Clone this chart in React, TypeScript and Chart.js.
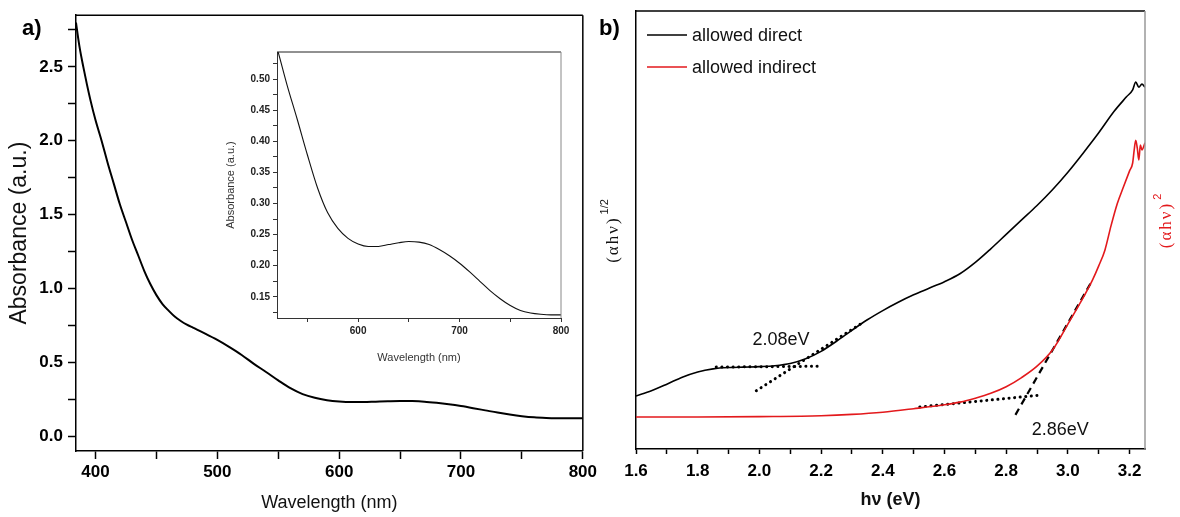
import React, { useEffect, useRef } from 'react';
import { Chart, registerables } from 'chart.js';

Chart.register(...registerables);
Chart.defaults.font.family = "'Liberation Sans', Arial, sans-serif";

// ---------- Panel a: absorbance spectrum ----------
const wavelength = [384, 385, 387, 390, 393, 396, 400, 405, 410, 415, 420, 425, 430, 435, 440, 445, 450, 455, 460, 465, 470, 475, 480, 490, 500, 510, 520, 530, 540, 550, 560, 570, 580, 590, 600, 610, 620, 630, 640, 650, 660, 670, 680, 690, 700, 710, 720, 730, 740, 750, 760, 770, 780, 790, 800];
const absorbance = [2.80, 2.74, 2.63, 2.50, 2.38, 2.27, 2.14, 2.00, 1.85, 1.71, 1.57, 1.45, 1.33, 1.225, 1.12, 1.03, 0.955, 0.895, 0.85, 0.81, 0.78, 0.755, 0.735, 0.695, 0.652, 0.603, 0.55, 0.49, 0.435, 0.378, 0.325, 0.285, 0.26, 0.244, 0.235, 0.231, 0.231, 0.234, 0.237, 0.239, 0.238, 0.234, 0.226, 0.216, 0.204, 0.19, 0.175, 0.16, 0.147, 0.136, 0.128, 0.124, 0.122, 0.121, 0.121];

const wavelengthTicks = [400, 450, 500, 550, 600, 650, 700, 750, 800];
const wavelengthTickLabels = ['400', '', '500', '', '600', '', '700', '', '800'];
const absorbanceTicks = [0, 0.25, 0.5, 0.75, 1.0, 1.25, 1.5, 1.75, 2.0, 2.25, 2.5, 2.75];
const absorbanceTickLabels = ['0.0', '', '0.5', '', '1.0', '', '1.5', '', '2.0', '', '2.5', ''];

// inset (same spectrum, zoomed)
const insetWavelengthTicks = [550, 600, 650, 700, 750, 800];
const insetWavelengthTickLabels = ['', '600', '', '700', '', '800'];
const insetAbsorbanceTicks = [0.125, 0.15, 0.175, 0.2, 0.225, 0.25, 0.275, 0.3, 0.325, 0.35, 0.375, 0.4, 0.425, 0.45, 0.475, 0.5, 0.525];
const insetAbsorbanceTickLabels = ['', '0.15', '', '0.20', '', '0.25', '', '0.30', '', '0.35', '', '0.40', '', '0.45', '', '0.50', ''];

// ---------- Panel b: Tauc plots ----------
const directEnergy = [1.60, 1.65, 1.70, 1.75, 1.80, 1.85, 1.90, 1.95, 2.00, 2.05, 2.10, 2.15, 2.20, 2.25, 2.30, 2.35, 2.40, 2.45, 2.50, 2.55, 2.60, 2.65, 2.70, 2.75, 2.80, 2.85, 2.90, 2.95, 3.00, 3.05, 3.10, 3.15, 3.19, 3.21, 3.22, 3.23, 3.24, 3.25];
const directValue = [12.1, 13.3, 14.8, 16.4, 17.6, 18.3, 18.6, 18.7, 18.8, 19.0, 19.5, 20.6, 22.3, 24.6, 27.1, 29.5, 31.6, 33.5, 35.2, 36.7, 38.2, 40.0, 42.6, 45.7, 49.0, 52.3, 55.6, 59.2, 63.2, 67.6, 72.2, 77.1, 80.4, 82.0, 83.8, 82.6, 83.3, 82.6];
const indirectEnergy = [1.60, 1.80, 2.00, 2.20, 2.30, 2.40, 2.50, 2.60, 2.65, 2.70, 2.75, 2.80, 2.85, 2.90, 2.95, 3.00, 3.05, 3.08, 3.10, 3.12, 3.14, 3.16, 3.18, 3.20, 3.21, 3.215, 3.22, 3.225, 3.23, 3.235, 3.24, 3.25];
const indirectValue = [7.3, 7.3, 7.4, 7.6, 7.9, 8.4, 9.2, 10.1, 10.7, 11.6, 12.7, 14.2, 16.3, 18.9, 22.6, 28.5, 34.6, 38.6, 41.8, 45.4, 51.0, 56.0, 59.8, 63.5, 65.3, 68.3, 70.5, 68.7, 66.0, 69.4, 68.3, 69.9];

const directFlatE = [1.86, 2.20];
const directFlatV = [18.7, 18.9];
const directSlopeE = [1.99, 2.34];
const directSlopeV = [13.3, 29.1];
const indirectFlatE = [2.52, 2.91];
const indirectFlatV = [9.6, 12.3];
const indirectSlopeE = [2.83, 3.08];
const indirectSlopeV = [7.8, 38.6];

const energyTicks = [1.6, 1.7, 1.8, 1.9, 2.0, 2.1, 2.2, 2.3, 2.4, 2.5, 2.6, 2.7, 2.8, 2.9, 3.0, 3.1, 3.2];
const energyTickLabels = ['1.6', '', '1.8', '', '2.0', '', '2.2', '', '2.4', '', '2.6', '', '2.8', '', '3.0', '', '3.2'];

const gapLabels = ['2.08eV', '2.86eV'];
const gapLabelE = [2.07, 2.975];
const gapLabelV = [24.9, 4.3];

const RED = '#e3191c';

const pts = (xs: number[], ys: number[]) => xs.map((x, i) => ({ x, y: ys[i] }));

const framePlugin = {
  id: 'frame',
  afterDatasetsDraw(chart: any, _args: any, opts: any) {
    const { ctx, chartArea } = chart;
    const { left, top, right, bottom } = chartArea;
    ctx.save();
    ctx.lineWidth = opts.width || 1.5;
    ctx.strokeStyle = opts.topColor || '#000';
    ctx.beginPath();
    ctx.moveTo(left, top);
    ctx.lineTo(right, top);
    ctx.stroke();
    ctx.strokeStyle = opts.rightColor || '#000';
    ctx.beginPath();
    ctx.moveTo(right, top);
    ctx.lineTo(right, bottom);
    ctx.stroke();
    ctx.restore();
  },
};

const letterPlugin = {
  id: 'panelLetter',
  afterDraw(chart: any, _args: any, opts: any) {
    if (!opts || !opts.text) return;
    const { ctx } = chart;
    ctx.save();
    ctx.font = "bold 22px 'Liberation Sans', Arial, sans-serif";
    ctx.fillStyle = '#000';
    ctx.textAlign = 'left';
    ctx.textBaseline = 'alphabetic';
    ctx.fillText(opts.text, opts.x, opts.y);
    ctx.restore();
  },
};

function drawRotatedSup(ctx: CanvasRenderingContext2D, cx: number, cy: number, base: string, sup: string, color: string) {
  ctx.save();
  ctx.translate(cx, cy);
  ctx.rotate(-Math.PI / 2);
  ctx.fillStyle = color;
  ctx.textBaseline = 'middle';
  ctx.textAlign = 'left';
  const baseFont = "17px 'Liberation Serif', 'DejaVu Serif', serif";
  const supFont = "11px 'Liberation Sans', Arial, sans-serif";
  (ctx as any).letterSpacing = '2px';
  ctx.font = baseFont;
  const wb = ctx.measureText(base).width;
  (ctx as any).letterSpacing = '0px';
  ctx.font = supFont;
  const ws = ctx.measureText(sup).width;
  const start = -(wb + ws + 2) / 2;
  (ctx as any).letterSpacing = '2px';
  ctx.font = baseFont;
  ctx.fillText(base, start, 0);
  (ctx as any).letterSpacing = '0px';
  ctx.font = supFont;
  ctx.fillText(sup, start + wb + 2, -9);
  ctx.restore();
}

const taucExtrasPlugin = {
  id: 'taucExtras',
  afterDatasetsDraw(chart: any) {
    const { ctx, chartArea, scales } = chart;
    const ds = chart.data.datasets;
    ctx.save();
    // legend
    const lx = chartArea.left + 11;
    [0, 1].forEach((di, r) => {
      const y = chartArea.top + 24 + r * 32;
      ctx.strokeStyle = ds[di].borderColor;
      ctx.lineWidth = 1.5;
      ctx.beginPath();
      ctx.moveTo(lx, y);
      ctx.lineTo(lx + 40, y);
      ctx.stroke();
      ctx.fillStyle = '#111';
      ctx.font = "18px 'Liberation Sans', Arial, sans-serif";
      ctx.textAlign = 'left';
      ctx.textBaseline = 'middle';
      ctx.fillText(ds[di].label, lx + 45, y + 1);
    });
    // band gap labels
    ctx.font = "18px 'Liberation Sans', Arial, sans-serif";
    ctx.fillStyle = '#111';
    ctx.textAlign = 'center';
    ctx.textBaseline = 'middle';
    gapLabels.forEach((t, i) => {
      ctx.fillText(t, scales.x.getPixelForValue(gapLabelE[i]), scales.y.getPixelForValue(gapLabelV[i]));
    });
    ctx.restore();
    // axis titles with superscripts
    const midY = (chartArea.top + chartArea.bottom) / 2;
    drawRotatedSup(ctx, chartArea.left - 22, midY + 1, '(αhν)', '1/2', '#111');
    drawRotatedSup(ctx, chartArea.right + 22, midY - 9, '(αhν)', '2', RED);
  },
};

const tickFont = { size: 17, weight: 'bold' as const };

export default function App() {
  const aRef = useRef<HTMLCanvasElement>(null);
  const insetRef = useRef<HTMLCanvasElement>(null);
  const bRef = useRef<HTMLCanvasElement>(null);

  useEffect(() => {
    const charts: Chart[] = [];

    charts.push(
      new Chart(aRef.current as HTMLCanvasElement, {
        type: 'scatter',
        data: {
          datasets: [
            {
              data: pts(wavelength, absorbance),
              showLine: true,
              borderColor: '#000',
              borderWidth: 2,
              pointRadius: 0,
              cubicInterpolationMode: 'monotone',
            } as any,
          ],
        },
        plugins: [framePlugin, letterPlugin],
        options: {
          animation: false,
          responsive: false,
          events: [],
          layout: { padding: { top: 13, right: 14, left: 0, bottom: 0 } },
          plugins: {
            legend: { display: false },
            tooltip: { enabled: false },
            frame: { width: 1.5 },
            panelLetter: { text: 'a)', x: 22, y: 35 },
          } as any,
          scales: {
            x: {
              type: 'linear',
              min: 384,
              max: 800,
              afterBuildTicks: (s: any) => {
                s.ticks = wavelengthTicks.map((v) => ({ value: v }));
              },
              afterFit: (s: any) => {
                s.height = 66;
              },
              ticks: {
                callback: (_v: any, i: number) => wavelengthTickLabels[i],
                font: tickFont,
                color: '#000',
                padding: 3,
                autoSkip: false,
                maxRotation: 0,
              },
              grid: { drawOnChartArea: false, drawTicks: true, tickLength: 8, tickColor: '#000', tickWidth: 1.5 },
              border: { display: true, color: '#000', width: 1.5 },
              title: { display: true, text: 'Wavelength (nm)', font: { size: 18 }, color: '#111', padding: { top: 0, bottom: 3 } },
            },
            y: {
              type: 'linear',
              min: -0.1,
              max: 2.85,
              afterBuildTicks: (s: any) => {
                s.ticks = absorbanceTicks.map((v) => ({ value: v }));
              },
              afterFit: (s: any) => {
                s.width = 76;
              },
              ticks: {
                callback: (_v: any, i: number) => absorbanceTickLabels[i],
                font: tickFont,
                color: '#000',
                padding: 5,
                autoSkip: false,
              },
              grid: { drawOnChartArea: false, drawTicks: true, tickLength: 8, tickColor: '#000', tickWidth: 1.5 },
              border: { display: true, color: '#000', width: 1.5 },
              title: { display: true, text: 'Absorbance (a.u.)', font: { size: 23 }, color: '#111', padding: { top: 6, bottom: 0 } },
            },
          },
        } as any,
      })
    );

    charts.push(
      new Chart(insetRef.current as HTMLCanvasElement, {
        type: 'scatter',
        data: {
          datasets: [
            {
              data: pts(wavelength, absorbance),
              showLine: true,
              borderColor: '#111',
              borderWidth: 1.1,
              pointRadius: 0,
              cubicInterpolationMode: 'monotone',
            } as any,
          ],
        },
        plugins: [framePlugin],
        options: {
          animation: false,
          responsive: false,
          events: [],
          layout: { padding: { top: 12, right: 19, left: 0, bottom: 0 } },
          plugins: {
            legend: { display: false },
            tooltip: { enabled: false },
            frame: { width: 1, topColor: '#222', rightColor: '#888' },
          } as any,
          scales: {
            x: {
              type: 'linear',
              min: 520,
              max: 800,
              afterBuildTicks: (s: any) => {
                s.ticks = insetWavelengthTicks.map((v) => ({ value: v }));
              },
              afterFit: (s: any) => {
                s.height = 52;
              },
              ticks: {
                callback: (_v: any, i: number) => insetWavelengthTickLabels[i],
                font: { size: 10, weight: 'bold' },
                color: '#222',
                padding: 3,
                autoSkip: false,
                maxRotation: 0,
              },
              grid: { drawOnChartArea: false, drawTicks: true, tickLength: 4, tickColor: '#333', tickWidth: 1 },
              border: { display: true, color: '#333', width: 1 },
              title: { display: true, text: 'Wavelength (nm)', font: { size: 11 }, color: '#333', padding: { top: 0, bottom: 5 } },
            },
            y: {
              type: 'linear',
              min: 0.116,
              max: 0.5435,
              afterBuildTicks: (s: any) => {
                s.ticks = insetAbsorbanceTicks.map((v) => ({ value: v }));
              },
              afterFit: (s: any) => {
                s.width = 77;
              },
              ticks: {
                callback: (_v: any, i: number) => insetAbsorbanceTickLabels[i],
                font: { size: 10, weight: 'bold' },
                color: '#222',
                padding: 3,
                autoSkip: false,
              },
              grid: { drawOnChartArea: false, drawTicks: true, tickLength: 4, tickColor: '#333', tickWidth: 1 },
              border: { display: true, color: '#333', width: 1 },
              title: { display: true, text: 'Absorbance (a.u.)', font: { size: 11 }, color: '#333', padding: { top: 24, bottom: 0 } },
            },
          },
        } as any,
      })
    );

    const dotted = { borderColor: '#000', borderWidth: 3, borderDash: [0.1, 5.5], borderCapStyle: 'round', pointRadius: 0, showLine: true };

    charts.push(
      new Chart(bRef.current as HTMLCanvasElement, {
        type: 'scatter',
        data: {
          datasets: [
            {
              label: 'allowed direct',
              data: pts(directEnergy, directValue),
              showLine: true,
              borderColor: '#000',
              borderWidth: 1.6,
              pointRadius: 0,
              cubicInterpolationMode: 'monotone',
            },
            {
              label: 'allowed indirect',
              data: pts(indirectEnergy, indirectValue),
              showLine: true,
              borderColor: RED,
              borderWidth: 1.6,
              pointRadius: 0,
              cubicInterpolationMode: 'monotone',
            },
            { label: 'direct baseline', data: pts(directFlatE, directFlatV), ...dotted },
            { label: 'direct tangent', data: pts(directSlopeE, directSlopeV), ...dotted },
            { label: 'indirect baseline', data: pts(indirectFlatE, indirectFlatV), ...dotted },
            {
              label: 'indirect tangent',
              data: pts(indirectSlopeE, indirectSlopeV),
              borderColor: '#000',
              borderWidth: 2.2,
              borderDash: [7, 5],
              pointRadius: 0,
              showLine: true,
            },
          ] as any,
        },
        plugins: [framePlugin, letterPlugin, taucExtrasPlugin],
        options: {
          animation: false,
          responsive: false,
          events: [],
          layout: { padding: { top: 11, right: 35, left: 0, bottom: 0 } },
          plugins: {
            legend: { display: false },
            tooltip: { enabled: false },
            frame: { width: 1.5, topColor: '#000', rightColor: '#999' },
            panelLetter: { text: 'b)', x: 9, y: 35 },
          } as any,
          scales: {
            x: {
              type: 'linear',
              min: 1.6,
              max: 3.25,
              afterBuildTicks: (s: any) => {
                s.ticks = energyTicks.map((v) => ({ value: v }));
              },
              afterFit: (s: any) => {
                s.height = 68;
              },
              ticks: {
                callback: (_v: any, i: number) => energyTickLabels[i],
                font: tickFont,
                color: '#000',
                padding: 7,
                autoSkip: false,
                maxRotation: 0,
              },
              grid: { drawOnChartArea: false, drawTicks: true, tickLength: 5, tickColor: '#000', tickWidth: 1.5 },
              border: { display: true, color: '#000', width: 1.5 },
              title: { display: true, text: 'hν (eV)', font: { size: 18, weight: 'bold' }, color: '#111', padding: { top: 0, bottom: 6 } },
            },
            y: {
              type: 'linear',
              min: 0,
              max: 100,
              afterFit: (s: any) => {
                s.width = 46;
              },
              ticks: { display: false },
              grid: { drawOnChartArea: false, drawTicks: false },
              border: { display: true, color: '#000', width: 1.5 },
            },
          },
        } as any,
      })
    );

    return () => charts.forEach((c) => c.destroy());
  }, []);

  return (
    <div style={{ position: 'absolute', left: 0, top: 0, width: 1180, height: 517, background: '#fff', overflow: 'hidden' }}>
      <canvas ref={aRef} width={600} height={517} style={{ position: 'absolute', left: 0, top: 0, width: 600, height: 517 }} />
      <canvas ref={insetRef} width={380} height={330} style={{ position: 'absolute', left: 200, top: 40, width: 380, height: 330 }} />
      <canvas ref={bRef} width={590} height={517} style={{ position: 'absolute', left: 590, top: 0, width: 590, height: 517 }} />
    </div>
  );
}
